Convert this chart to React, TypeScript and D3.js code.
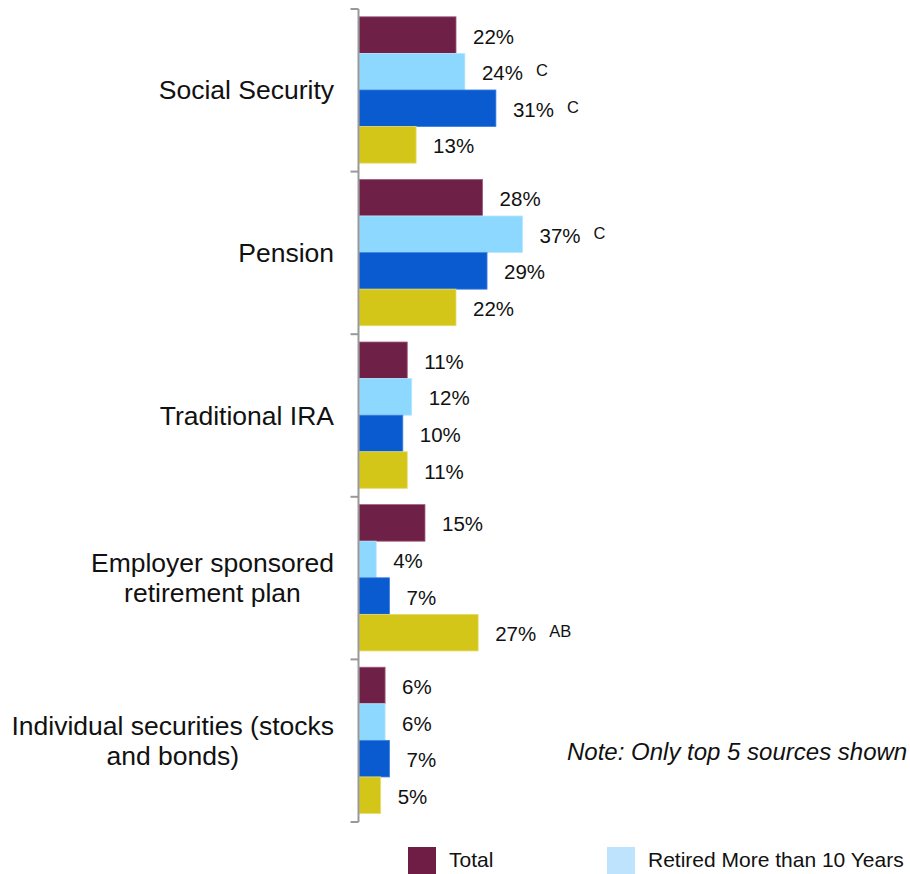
import React, { useEffect, useRef } from "react";
import * as d3 from "d3";

const categories: string[][] = [
  ["Social Security"],
  ["Pension"],
  ["Traditional IRA"],
  ["Employer sponsored", "retirement plan"],
  ["Individual securities (stocks", "and bonds)"],
];

const seriesNames = ["Total", "Retired More than 10 Years", "Series C", "Series D"];

const valuesTotal = [22, 28, 11, 15, 6];
const valuesMore10 = [24, 37, 12, 4, 6];
const valuesSeries3 = [31, 29, 10, 7, 7];
const valuesSeries4 = [13, 22, 11, 27, 5];

const sigMore10 = ["C", "C", "", "", ""];
const sigSeries3 = ["C", "", "", "", ""];
const sigSeries4 = ["", "", "", "AB", ""];
const sigTotal = ["", "", "", "", ""];

const noteText = "Note: Only top 5 sources shown";

const seriesValues = [valuesTotal, valuesMore10, valuesSeries3, valuesSeries4];
const seriesSig = [sigTotal, sigMore10, sigSeries3, sigSeries4];

const barColors = ["#6F2046", "#8DD8FF", "#0B5BD0", "#D4C618"];
const barStrokes = ["#A45E80", "#B7E7FF", "#3B80E0", "#E8DC70"];
const legendColors = ["#6F1D45", "#BDE3FD"];

const FONT = "'Liberation Sans', Arial, Helvetica, sans-serif";

export default function App() {
  const ref = useRef<SVGSVGElement | null>(null);

  useEffect(() => {
    const svg = d3.select(ref.current);
    svg.selectAll("*").remove();

    const axisX = 358.5;
    const catKeys = categories.map((_, i) => String(i));
    const y0 = d3.scaleBand<string>().domain(catKeys).range([9, 822]).padding(0);
    const bw = y0.bandwidth();
    const y1 = d3
      .scaleBand<string>()
      .domain(seriesNames)
      .range([bw * 0.048, bw * 0.948])
      .padding(0);
    const x = d3.scaleLinear().domain([0, 37]).range([axisX, axisX + 164]);

    const g = svg.append("g");

    // bars
    catKeys.forEach((ck, ci) => {
      const top = y0(ck)!;
      seriesNames.forEach((sn, si) => {
        const v = seriesValues[si][ci];
        const yy = top + y1(sn)!;
        const h = y1.bandwidth();
        g.append("rect")
          .attr("x", x(0) + 0.5)
          .attr("y", yy)
          .attr("width", x(v) - x(0) - 0.5)
          .attr("height", h)
          .attr("fill", barColors[si])
          .attr("stroke", barStrokes[si])
          .attr("stroke-width", 0.8);
        const label = g
          .append("text")
          .attr("x", x(v) + 17)
          .attr("y", yy + h / 2 + 8.5)
          .attr("font-family", FONT)
          .attr("font-size", 20.5)
          .attr("fill", "#111")
          .text(`${v}%`);
        const sig = seriesSig[si][ci];
        if (sig) {
          const w = (label.node() as SVGTextElement).getComputedTextLength();
          g.append("text")
            .attr("x", x(v) + 17 + w + 13)
            .attr("y", yy + h / 2 + 4.5)
            .attr("font-family", FONT)
            .attr("font-size", 16.5)
            .attr("fill", "#111")
            .text(sig);
        }
      });
    });

    // axis
    const axis = svg.append("g");
    axis
      .append("line")
      .attr("x1", axisX)
      .attr("x2", axisX)
      .attr("y1", 9)
      .attr("y2", 822)
      .attr("stroke", "#999")
      .attr("stroke-width", 2);
    const tickYs = catKeys.map((k) => y0(k)!).concat([y0.range()[1]]);
    tickYs.forEach((ty) => {
      axis
        .append("line")
        .attr("x1", axisX - 8)
        .attr("x2", axisX)
        .attr("y1", ty)
        .attr("y2", ty)
        .attr("stroke", "#999")
        .attr("stroke-width", 2);
    });

    // category labels
    categories.forEach((lines, ci) => {
      const center = y0(String(ci))! + bw / 2;
      const t = svg
        .append("text")
        .attr("font-family", FONT)
        .attr("font-size", 26.5)
        .attr("fill", "#111")
        .attr("text-anchor", "middle");
      const n = lines.length;
      const tspans = lines.map((ln, li) =>
        t
          .append("tspan")
          .attr("y", center + 9 + (li - (n - 1) / 2) * 30)
          .text(ln)
      );
      const maxW = d3.max(tspans, (ts) => (ts.node() as SVGTSpanElement).getComputedTextLength()) || 0;
      const cx = 334 - maxW / 2;
      tspans.forEach((ts) => ts.attr("x", cx));
    });

    // note
    svg
      .append("text")
      .attr("x", 567)
      .attr("y", 760)
      .attr("font-family", FONT)
      .attr("font-size", 24)
      .attr("font-style", "italic")
      .attr("fill", "#111")
      .text(noteText);

    // legend (visible row)
    const legendX = [408, 607];
    legendX.forEach((lx, i) => {
      svg
        .append("rect")
        .attr("x", lx)
        .attr("y", 847)
        .attr("width", 28)
        .attr("height", 27)
        .attr("fill", legendColors[i]);
      svg
        .append("text")
        .attr("x", lx + 41)
        .attr("y", 867)
        .attr("font-family", FONT)
        .attr("font-size", 21)
        .attr("fill", "#111")
        .text(seriesNames[i]);
    });
  }, []);

  return (
    <svg
      ref={ref}
      width={910}
      height={874}
      style={{ position: "absolute", left: 0, top: 0, display: "block", background: "#fff" }}
    />
  );
}
